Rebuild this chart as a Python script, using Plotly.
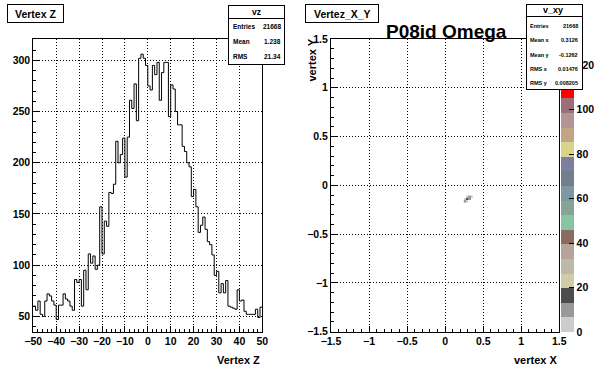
import plotly.graph_objects as go

W, H = 596, 374

# ---------------- data ----------------
vz_bin_low = -50
vz_bin_width = 1
vz_counts = [
    60, 56, 65, 52, 50, 65, 72, 70, 65, 61,
    47, 61, 61, 72, 67, 65, 60, 56, 86, 83,
    86, 60, 95, 76, 111, 102, 109, 96, 100, 157,
    111, 143, 138, 171, 170, 179, 221, 200, 208, 224,
    186, 225, 261, 253, 277, 241, 302, 306, 302, 295,
    275, 271, 295, 286, 298, 261, 288, 298, 298, 245,
    276, 272, 250, 237, 237, 216, 211, 200, 196, 167,
    174, 157, 132, 139, 147, 135, 123, 120, 110, 90,
    94, 73, 82, 73, 85, 60, 59, 58, 57, 76,
    65, 66, 55, 52, 52, 52, 52, 57, 49, 59,
]
vz_stats = [("Entries", "21668"), ("Mean", "1.238"), ("RMS", "21.34")]

xy_x_edges = [0.245, 0.275, 0.305, 0.335, 0.365]
xy_y_edges = [-0.18, -0.155, -0.13, -0.105]
xy_counts = [
    [10, 5, None, None],
    [5, 19, 10, None],
    [None, 5, 10, 5],
]
xy_zmax = 131.4
xy_stats = [("Entries", "21668"), ("Mean x", "0.3126"), ("Mean y", "-0.1262"),
            ("RMS x", "0.01476"), ("RMS y", "0.008205")]
palette = ["#cccccc", "#999999", "#4d4d4d", "#d0cca8", "#bdb9a5", "#b8a39b",
           "#8c6a5c", "#86c4a4", "#84a494", "#7c98a0", "#727e8a", "#7e7e9e",
           "#d8d48a", "#c4a487", "#b49496", "#9c6e78", "#ff0000", "#ff0000",
           "#ff0000", "#ff0000"]
cb_ticks = [0, 20, 40, 60, 80, 100, 120]

# ---------------- helpers ----------------
def px(x):
    return x / W

def py(y):
    return 1 - y / H

FONT = "Liberation Sans, Arial, Helvetica, sans-serif"

def bfont(size, color="black"):
    return dict(family=FONT, size=size, color=color, weight="bold")

# ---------------- traces ----------------
edges = [vz_bin_low + i * vz_bin_width for i in range(len(vz_counts) + 1)]
fig = go.Figure()
fig.add_trace(go.Scatter(
    x=edges, y=vz_counts + [vz_counts[-1]], mode="lines",
    line=dict(color="black", width=1, shape="hv"),
    xaxis="x", yaxis="y", showlegend=False, hoverinfo="skip"))

n = len(palette)
cscale = []
for i, c in enumerate(palette):
    cscale.append([i / n, c])
    cscale.append([(i + 1) / n, c])

fig.add_trace(go.Heatmap(
    x=xy_x_edges, y=xy_y_edges, z=xy_counts, zmin=0, zmax=xy_zmax,
    colorscale=cscale, xaxis="x2", yaxis="y2", hoverinfo="skip",
    colorbar=dict(
        x=px(560.5), xanchor="left", xpad=0, ypad=0,
        y=py(332), yanchor="bottom", lenmode="pixels", len=292,
        thickness=13, thicknessmode="pixels", outlinewidth=0,
        tickvals=cb_ticks, ticks="inside", ticklen=5, tickcolor="black",
        tickfont=bfont(10.5)),
))

# ---------------- axes ----------------
grid = dict(showgrid=True, gridcolor="black", gridwidth=1, griddash="1px,2px",
            showline=True, linecolor="black", linewidth=1, mirror=True,
            zeroline=False, ticks="inside", tickcolor="black", tickwidth=1,
            tickfont=bfont(10.5), fixedrange=True, automargin=False)

fig.update_layout(
    xaxis=dict(domain=[px(33.3), px(262.3)], range=[-50, 50], tick0=-50, dtick=10,
               ticklen=6, minor=dict(dtick=2, ticklen=3, ticks="inside", tickcolor="black"),
               anchor="y", **grid),
    yaxis=dict(domain=[py(331.7), py(39)], range=[35.06, 320.8], tick0=50, dtick=50,
               ticklen=6, minor=dict(dtick=10, ticklen=3, ticks="inside", tickcolor="black"),
               anchor="x", **grid),
    xaxis2=dict(domain=[px(331), px(559.3)], range=[-1.5, 1.5], tick0=-1.5, dtick=0.5,
                ticklen=6, minor=dict(dtick=0.1, ticklen=3, ticks="inside", tickcolor="black"),
                anchor="y2", **grid),
    yaxis2=dict(domain=[py(331.7), py(39)], range=[-1.5, 1.5], tick0=-1.5, dtick=0.5,
                ticklen=6, minor=dict(dtick=0.1, ticklen=3, ticks="inside", tickcolor="black"),
                anchor="x2", **grid),
)

# ---------------- annotations (boxes + texts) ----------------
ann = []

def box(x0, y0, x1, y1):
    ann.append(dict(xref="paper", yref="paper", x=px(x0), y=py(y0),
                    xanchor="left", yanchor="top", text=" ", showarrow=False,
                    width=x1 - x0 - 2, height=y1 - y0 - 2, borderpad=0,
                    borderwidth=1, bordercolor="black", bgcolor="white",
                    font=dict(size=1)))

def hline(x0, x1, y):
    ann.append(dict(xref="paper", yref="paper", x=px(x0), y=py(y),
                    xanchor="left", yanchor="middle", text=" ", showarrow=False,
                    width=x1 - x0, height=1, borderpad=0, borderwidth=0,
                    bgcolor="black", font=dict(size=1)))

def text(t, x, y, size, xa="center", ya="middle", angle=0):
    ann.append(dict(xref="paper", yref="paper", x=px(x), y=py(y), text=t,
                    xanchor=xa, yanchor=ya, showarrow=False, textangle=angle,
                    font=bfont(size)))

# left pad title
box(7.3, 4, 64, 23.3)
text("Vertex Z", 35.7, 13.7, 10.5)
# left stats
box(228.3, 5, 285, 65)
hline(228.3, 285, 19)
text("vz", 256.7, 12.3, 8.5)
for i, (k, v) in enumerate(vz_stats):
    yy = 26 + i * 15.3
    text(k, 230.5, yy, 6.5, xa="left")
    text(v, 283, yy, 6.5, xa="right")
text("Vertex Z", 262.3, 360, 11, xa="right")

# right pad
box(305.3, 4, 379.3, 23.3)
text("Vertez_X_Y", 342.3, 13.7, 10.5)
text("P08id Omega", 446, 31.5, 19, ya="middle")
box(526, 4, 583.3, 90)
hline(526, 583.3, 16.7)
text("v_xy", 552.7, 10.3, 9)
for i, (k, v) in enumerate(xy_stats):
    yy = 26 + i * 14.3
    text(k, 528.3, yy, 5.5, xa="left")
    text(v, 579.5, yy, 5.5, xa="right")
text("vertex X", 559.3, 360, 11, xa="right")
text("vertex Y", 312, 37, 11, xa="center", ya="top", angle=-90)

fig.update_layout(
    annotations=ann,
    width=W, height=H, margin=dict(l=0, r=0, t=0, b=0, autoexpand=False),
    paper_bgcolor="white", plot_bgcolor="white", showlegend=False,
)

fig.write_html("out.html", config={"displayModeBar": False},
               post_script="document.body.style.margin='0';document.body.style.overflow='hidden';")
